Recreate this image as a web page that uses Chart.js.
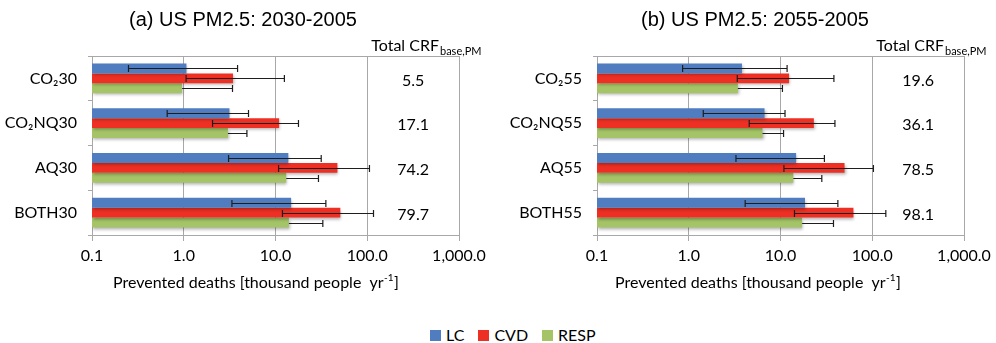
<!DOCTYPE html>
<html>
<head>
<meta charset="utf-8">
<script src="https://cdn.jsdelivr.net/npm/chart.js@4.4.1/dist/chart.umd.min.js"></script>
<style>
  html, body { margin: 0; padding: 0; background: #fff; }
  body { width: 996px; height: 343px; position: relative; overflow: hidden; font-family: Lato, sans-serif; }
  .panel { position: absolute; top: 0; width: 498px; height: 300px; }
  #legend { position: absolute; top: 326px; left: 430px; display: flex; align-items: center; font-size: 16px; color: #000; line-height: 18px; }
  .item { display: flex; align-items: center; margin-right: 14px; }
  .sw { width: 11px; height: 11px; margin-right: 5px; }
</style>
</head>
<body>
<div class="panel" style="left:0"><canvas id="panelA"></canvas></div>
<div class="panel" style="left:498px"><canvas id="panelB"></canvas></div>
<div id="legend"></div>
<script>
// Prevented deaths, thousand people per year (log axis)
const seriesNames = ['LC', 'CVD', 'RESP'];
const seriesColors = ['#4F7DC0', '#EE3024', '#A5C467'];
const tickValues = [0.1, 1, 10, 100, 1000];

// (a) 2030 - 2005
const categoriesA = ['CO₂30', 'CO₂NQ30', 'AQ30', 'BOTH30'];
const lcA   = [1.07, 3.15, 13.8, 14.8];
const cvdA  = [3.44, 10.95, 47.3, 50.9];
const respA = [0.96, 3.03, 13.1, 14.0];
const lcLowA   = [0.25, 0.66, 3.08, 3.35];
const lcHighA  = [3.86, 5.08, 31.5, 35.4];
const cvdLowA  = [1.06, 2.06, 10.8, 11.9];
const cvdHighA = [12.5, 17.8, 105.7, 117];
const respHighA = [3.4, 4.88, 29.4, 32.8];
const totalsA = [5.5, 17.1, 74.2, 79.7];

// (b) 2055 - 2005
const categoriesB = ['CO₂55', 'CO₂NQ55', 'AQ55', 'BOTH55'];
const lcB   = [3.80, 6.70, 14.8, 18.5];
const cvdB  = [12.4, 23.1, 49.9, 62.4];
const respB = [3.43, 6.37, 13.8, 17.2];
const lcLowB   = [0.857, 1.44, 3.27, 4.12];
const lcHighB  = [11.8, 11.2, 30.1, 42.2];
const cvdLowB  = [3.38, 4.56, 10.9, 14.2];
const cvdHighB = [38.2, 39.2, 103, 140.6];
const respHighB = [10.5, 10.8, 28.2, 37.8];
const totalsB = [19.6, 36.1, 78.5, 98.1];

const GRID = '#a8a8a8';
const FONT = 'Lato, "Open Sans", sans-serif';

// Bar drop shadow + error bars
const shadowAndErrors = {
  id: 'shadowAndErrors',
  beforeDatasetsDraw(chart) {
    const ctx = chart.ctx;
    ctx.save();
    ctx.shadowColor = 'rgba(0,0,0,0.30)';
    ctx.shadowBlur = 3;
    ctx.shadowOffsetX = 1;
    ctx.shadowOffsetY = 2;
  },
  afterDatasetsDraw(chart) {
    const ctx = chart.ctx;
    ctx.restore();
    const xs = chart.scales.x;
    ctx.save();
    ctx.strokeStyle = '#1e1e1e';
    ctx.lineWidth = 1.2;
    chart.data.datasets.forEach((ds, di) => {
      const meta = chart.getDatasetMeta(di);
      meta.data.forEach((bar, i) => {
        const lo = ds.errLow ? ds.errLow[i] : ds.data[i];
        const hi = ds.errHigh[i];
        const y = Math.round(bar.y) + 0.5;
        const x1 = xs.getPixelForValue(lo);
        const x2 = xs.getPixelForValue(hi);
        ctx.beginPath();
        ctx.moveTo(x1, y); ctx.lineTo(x2, y);
        ctx.moveTo(x2, y - 3.5); ctx.lineTo(x2, y + 3.5);
        if (ds.errLow) { ctx.moveTo(x1, y - 3.5); ctx.lineTo(x1, y + 3.5); }
        ctx.stroke();
      });
    });
    ctx.restore();
  }
};

// Panel title, frame top, total column and axis caption
const panelText = {
  id: 'panelText',
  afterDraw(chart, args, opts) {
    const ctx = chart.ctx, xs = chart.scales.x, ys = chart.scales.y, ca = chart.chartArea;
    ctx.save();
    ctx.strokeStyle = GRID;
    ctx.lineWidth = 1;
    ctx.beginPath();
    ctx.moveTo(ca.left, Math.round(ca.top) + 0.5);
    ctx.lineTo(ca.right, Math.round(ca.top) + 0.5);
    ctx.stroke();

    ctx.fillStyle = '#000';
    ctx.textBaseline = 'alphabetic';
    ctx.textAlign = 'center';
    ctx.font = '20px "Liberation Sans", Arial, sans-serif';
    ctx.fillText(opts.title, opts.titleX, 26);

    // column header with subscript
    const x100 = xs.getPixelForValue(100), x1000 = xs.getPixelForValue(1000);
    ctx.textAlign = 'left';
    ctx.font = '16px ' + FONT;
    const head = 'Total CRF';
    const hx = x100 + 4;
    ctx.fillText(head, hx, 51);
    const hw = ctx.measureText(head).width;
    ctx.font = '11px ' + FONT;
    ctx.fillText('base,PM', hx + hw + 1, 55);

    // totals
    ctx.textAlign = 'center';
    ctx.font = '16px ' + FONT;
    ctx.textBaseline = 'middle';
    const cx = (x100 + x1000) / 2;
    opts.totals.forEach((t, i) => {
      ctx.fillText(t.toFixed(1), cx, ys.getPixelForValue(i) + 2);
    });

    // x-axis caption with superscript
    ctx.textBaseline = 'alphabetic';
    ctx.textAlign = 'left';
    const main = 'Prevented deaths [thousand people  yr';
    ctx.font = '16px ' + FONT;
    const mw = ctx.measureText(main).width;
    ctx.font = '10px ' + FONT;
    const sw = ctx.measureText('-1').width;
    ctx.font = '16px ' + FONT;
    const bw = ctx.measureText(']').width;
    const total = mw + sw + bw + 1;
    let x = opts.captionX - total / 2;
    ctx.fillText(main, x, 288);
    ctx.font = '10px ' + FONT;
    ctx.fillText('-1', x + mw + 0.5, 281);
    ctx.font = '16px ' + FONT;
    ctx.fillText(']', x + mw + sw + 1, 288);
    ctx.restore();
  }
};

function buildChart(id, cats, lc, cvd, resp, lcLo, lcHi, cvdLo, cvdHi, respHi, totals, title, titleX, captionX, yWidth, rightPad) {
  const vals = [lc, cvd, resp];
  const datasets = seriesNames.map((name, k) => ({
    label: name,
    data: vals[k],
    backgroundColor: seriesColors[k],
    borderWidth: 0,
    categoryPercentage: 0.67,
    barPercentage: 1.0,
    errLow: k === 0 ? lcLo : (k === 1 ? cvdLo : null),
    errHigh: k === 0 ? lcHi : (k === 1 ? cvdHi : respHi)
  }));
  return new Chart(document.getElementById(id), {
    type: 'bar',
    data: { labels: cats, datasets },
    options: {
      indexAxis: 'y',
      responsive: true,
      maintainAspectRatio: false,
      animation: false,
      layout: { padding: { top: 56, right: rightPad, left: 0, bottom: 0 } },
      plugins: {
        legend: { display: false },
        tooltip: { enabled: false },
        panelText: { title, titleX, captionX, totals }
      },
      scales: {
        x: {
          type: 'logarithmic',
          min: 0.1,
          max: 1000,
          afterBuildTicks: s => { s.ticks = tickValues.map(v => ({ value: v })); },
          afterFit: s => { s.height = 65; },
          grid: { color: GRID, tickLength: 6, lineWidth: 1 },
          border: { color: GRID },
          ticks: {
            color: '#000',
            font: { family: FONT, size: 16 },
            padding: 5,
            maxRotation: 0,
            callback: v => Number(v).toLocaleString('en-US', { minimumFractionDigits: 1, maximumFractionDigits: 1 })
          }
        },
        y: {
          type: 'category',
          afterFit: s => { s.width = yWidth; },
          grid: { offset: true, drawOnChartArea: false, tickLength: 4, color: GRID },
          border: { color: GRID },
          ticks: { color: '#000', font: { family: FONT, size: 16 }, padding: 11 }
        }
      }
    },
    plugins: [shadowAndErrors, panelText]
  });
}

buildChart('panelA', categoriesA, lcA, cvdA, respA, lcLowA, lcHighA, cvdLowA, cvdHighA, respHighA, totalsA,
  '(a) US PM2.5: 2030-2005', 243, 256, 92, 39);
buildChart('panelB', categoriesB, lcB, cvdB, respB, lcLowB, lcHighB, cvdLowB, cvdHighB, respHighB, totalsB,
  '(b) US PM2.5: 2055-2005', 257, 260, 99, 32);

// legend
const legend = document.getElementById('legend');
seriesNames.forEach((name, k) => {
  const item = document.createElement('div');
  item.className = 'item';
  const sw = document.createElement('span');
  sw.className = 'sw';
  sw.style.background = seriesColors[k];
  const tx = document.createElement('span');
  tx.textContent = name;
  item.appendChild(sw);
  item.appendChild(tx);
  legend.appendChild(item);
});
</script>
</body>
</html>
